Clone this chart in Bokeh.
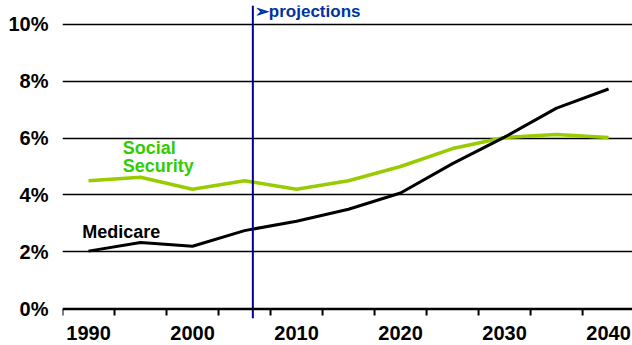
from bokeh.plotting import figure
from bokeh.models import FixedTicker, PrintfTickFormatter, Span, Label, Range1d
from bokeh.core.properties import value
from bokeh.embed import file_html
from bokeh.resources import INLINE

years = [1990, 1995, 2000, 2005, 2010, 2015, 2020, 2025, 2030, 2035, 2040]
medicare = [2.03, 2.33, 2.2, 2.75, 3.08, 3.5, 4.07, 5.1, 6.03, 7.05, 7.72]
social_security = [4.5, 4.62, 4.2, 4.5, 4.2, 4.5, 5.0, 5.63, 6.02, 6.12, 6.02]
year_labels = [1990, 2000, 2010, 2020, 2030, 2040]
band_edges = [1987.5, 1992.5, 1997.5, 2002.5, 2007.5, 2012.5, 2017.5, 2022.5, 2027.5, 2032.5, 2037.5]
y_ticks = [0, 2, 4, 6, 8, 10]
projection_start = 2005.8

FONT = "Liberation Sans"
Y_TOP = 10.65
Y_BOTTOM = -1.282
TICK_LEN = -0.23
LINE_BOTTOM = -0.33
LABEL_Y = -1.08

p = figure(width=632, height=345, output_backend="svg", toolbar_location=None,
           x_range=Range1d(1987.5, 2042.3), y_range=Range1d(Y_BOTTOM, Y_TOP),
           min_border_left=62, min_border_right=0, min_border_top=5, min_border_bottom=0)
p.outline_line_color = None
p.background_fill_color = "white"
p.border_fill_color = "white"

p.xaxis.visible = False

# y axis
ya = p.yaxis[0]
ya.ticker = FixedTicker(ticks=y_ticks)
ya.formatter = PrintfTickFormatter(format="%d%%")
ya.axis_line_color = None
ya.major_tick_in = 0
ya.major_tick_out = 0
ya.minor_tick_line_color = None
ya.major_label_text_font = FONT
ya.major_label_text_font_style = "bold"
ya.major_label_text_font_size = "20px"
ya.major_label_text_color = "black"
ya.major_label_standoff = 14

p.xgrid.visible = False
p.ygrid.ticker = FixedTicker(ticks=y_ticks[1:])
p.ygrid.grid_line_color = "black"
p.ygrid.grid_line_width = 1.6

# x axis baseline, ticks and year labels
p.add_layout(Span(location=0, dimension="width", line_color="black", line_width=2.5))
p.segment(x0=band_edges, x1=band_edges, y0=[0] * len(band_edges), y1=[TICK_LEN] * len(band_edges),
          line_color="black", line_width=2)
p.text(x=year_labels, y=[LABEL_Y] * len(year_labels), text=[str(v) for v in year_labels],
       text_font=value(FONT), text_font_style="bold", text_font_size="20px",
       text_color="black", text_align="center", text_baseline="bottom")

p.line(years, social_security, line_color="#99CC00", line_width=3.5)
p.line(years, medicare, line_color="black", line_width=3)

p.segment(x0=[projection_start], x1=[projection_start], y0=[LINE_BOTTOM], y1=[Y_TOP],
          line_color="#000099", line_width=2)

p.add_layout(Label(x=projection_start, y=10.33, x_offset=2, y_offset=3, text="➢projections",
                   text_font=FONT, text_font_style="bold", text_font_size="17px",
                   text_color="#0033A0", text_baseline="alphabetic"))
p.add_layout(Label(x=1989.4, y=2.51, y_offset=5, text="Medicare",
                   text_font=FONT, text_font_style="bold", text_font_size="18px",
                   text_color="black", text_baseline="alphabetic"))
p.add_layout(Label(x=1993.3, y=5.49, y_offset=5, text="Social",
                   text_font=FONT, text_font_style="bold", text_font_size="18px",
                   text_color="#33CC00", text_baseline="alphabetic"))
p.add_layout(Label(x=1993.3, y=4.84, y_offset=5, text="Security",
                   text_font=FONT, text_font_style="bold", text_font_size="18px",
                   text_color="#33CC00", text_baseline="alphabetic"))

open("out.html", "w").write(file_html(p, INLINE))
